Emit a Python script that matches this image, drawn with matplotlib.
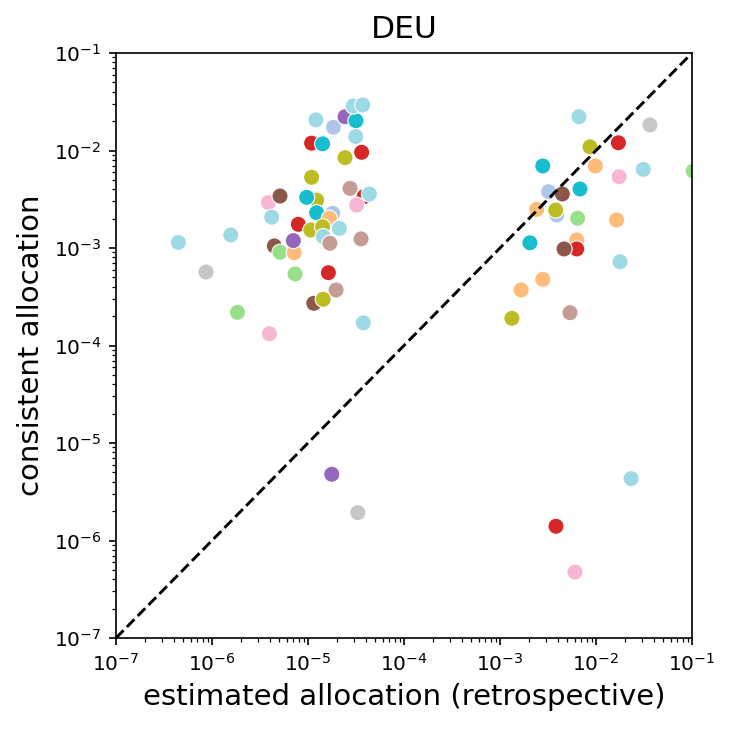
import numpy as np
import matplotlib
matplotlib.use('Agg')
import matplotlib.pyplot as plt

# colores por grupo (paleta tab20)
palette = {
    'red': '#d62728', 'orange': '#ffbb78', 'brown': '#8c564b', 'pink': '#f7b6d2',
    'olive': '#bcbd22', 'cyan': '#17becf', 'lcyan': '#9edae5', 'lblue': '#aec7e8',
    'purple': '#9467bd', 'lgreen': '#98df8a', 'grey': '#c7c7c7', 'lbrown': '#c49c94',
}

# asignación estimada (retrospectiva)
estimated = [
    4.46e-7, 1.57e-6, 8.66e-7, 1.84e-6, 3.96e-6, 3.87e-6, 5.11e-6, 4.19e-6,
    4.46e-6, 5.11e-6, 7.19e-6, 7.93e-6, 7.03e-6, 7.33e-6, 1.09e-5, 1.23e-5,
    9.68e-6, 1.23e-5, 1.81e-5, 1.67e-5, 1.07e-5, 1.42e-5, 1.44e-5, 2.12e-5,
    1.69e-5, 3.57e-5, 1.63e-5, 1.96e-5, 1.15e-5, 1.44e-5, 3.77e-5, 2.74e-5,
    3.83e-5, 4.36e-5, 3.21e-5, 1.21e-5, 1.84e-5, 2.43e-5, 3.16e-5, 2.96e-5,
    3.72e-5, 3.14e-5, 1.09e-5, 1.42e-5, 2.43e-5, 3.62e-5,
    6.65e-3, 3.65e-2, 8.66e-3, 1.71e-2, 2.79e-3, 9.84e-3, 1.74e-2, 3.11e-2,
    1.03e-1, 3.21e-3, 4.46e-3, 6.81e-3, 2.41e-3, 3.90e-3, 3.80e-3, 6.44e-3,
    1.64e-2, 2.05e-3, 6.30e-3, 6.30e-3, 4.65e-3, 1.78e-2, 2.79e-3, 1.66e-3,
    5.36e-3, 1.33e-3,
    1.77e-5, 3.30e-5, 2.32e-2, 3.83e-3, 6.04e-3,
]

# asignación consistente
consistent = [
    1.14e-3, 1.36e-3, 5.67e-4, 2.19e-4, 1.32e-4, 2.92e-3, 3.41e-3, 2.07e-3,
    1.05e-3, 9.04e-4, 8.96e-4, 1.75e-3, 1.19e-3, 5.41e-4, 5.31e-3, 3.10e-3,
    3.31e-3, 2.30e-3, 2.27e-3, 2.02e-3, 1.53e-3, 1.65e-3, 1.31e-3, 1.59e-3,
    1.12e-3, 1.24e-3, 5.58e-4, 3.71e-4, 2.71e-4, 2.98e-4, 1.71e-4, 4.09e-3,
    3.36e-3, 3.58e-3, 2.76e-3, 2.06e-2, 1.73e-2, 2.22e-2, 2.02e-2, 2.86e-2,
    2.93e-2, 1.39e-2, 1.19e-2, 1.17e-2, 8.44e-3, 9.59e-3,
    2.22e-2, 1.83e-2, 1.09e-2, 1.20e-2, 6.94e-3, 6.94e-3, 5.38e-3, 6.41e-3,
    6.17e-3, 3.78e-3, 3.58e-3, 4.03e-3, 2.49e-3, 2.18e-3, 2.45e-3, 2.02e-3,
    1.94e-3, 1.13e-3, 1.21e-3, 9.78e-4, 9.78e-4, 7.23e-4, 4.78e-4, 3.71e-4,
    2.17e-4, 1.90e-4,
    4.78e-6, 1.93e-6, 4.31e-6, 1.40e-6, 4.75e-7,
]

group = [
    'lcyan', 'lcyan', 'grey', 'lgreen', 'pink', 'pink', 'brown', 'lcyan',
    'brown', 'lgreen', 'orange', 'red', 'purple', 'lgreen', 'olive', 'olive',
    'cyan', 'cyan', 'lblue', 'orange', 'olive', 'olive', 'lcyan', 'lcyan',
    'lbrown', 'lbrown', 'red', 'lbrown', 'brown', 'olive', 'lcyan', 'lbrown',
    'red', 'lcyan', 'pink', 'lcyan', 'lblue', 'purple', 'cyan', 'lcyan',
    'lcyan', 'lcyan', 'red', 'cyan', 'olive', 'red',
    'lcyan', 'grey', 'olive', 'red', 'cyan', 'orange', 'pink', 'lcyan',
    'lgreen', 'lblue', 'brown', 'cyan', 'orange', 'lblue', 'olive', 'lgreen',
    'orange', 'cyan', 'orange', 'red', 'brown', 'lcyan', 'orange', 'orange',
    'lbrown', 'olive',
    'purple', 'grey', 'lcyan', 'red', 'pink',
]

lims = [1e-7, 1e-1]

fig = plt.figure(figsize=(7.33, 7.29), dpi=100)
ax = fig.add_axes([116/733, 1 - 638/729, 576/733, 585/729])

ax.scatter(estimated, consistent, c=[palette[g] for g in group], s=135,
           edgecolors='white', linewidths=0.8, zorder=2)
ax.plot(lims, lims, 'k--', lw=2.1, zorder=3)

ax.set_xscale('log')
ax.set_yscale('log')
ax.set_xlim(lims)
ax.set_ylim(lims)
for s in ax.spines.values():
    s.set_linewidth(1.2)
ax.tick_params(which='major', labelsize=14.5, length=5.25, width=1.2, pad=5.25)
ax.tick_params(which='minor', length=3, width=0.9)
ax.set_xlabel('estimated allocation (retrospective)', fontsize=21, labelpad=6)
ax.set_ylabel('consistent allocation', fontsize=21, labelpad=6)
ax.set_title('DEU', fontsize=22.5, pad=11)

fig.savefig('out.png', dpi=100)
